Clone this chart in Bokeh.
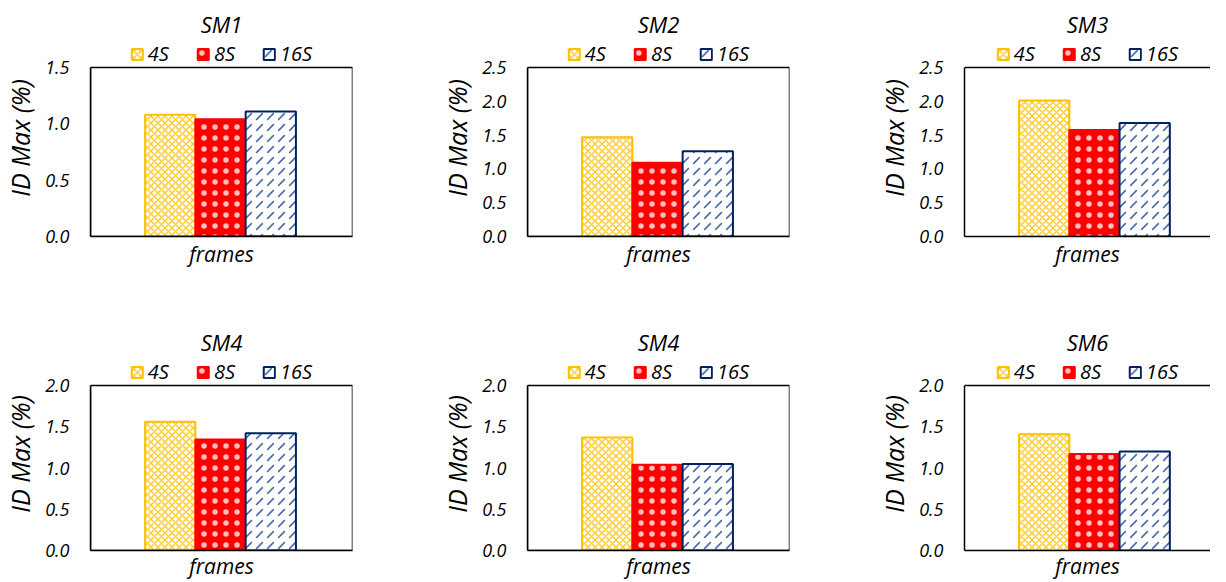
from bokeh.plotting import figure
from bokeh.layouts import row, column
from bokeh.models import (Range1d, FixedTicker, PrintfTickFormatter, Legend,
                          LegendItem, Span, ColumnDataSource, BoxAnnotation)
from bokeh.embed import file_html
from bokeh.resources import INLINE

# ---------------- data ----------------
series = ["4S", "8S", "16S"]
titles = ["SM1", "SM2", "SM3", "SM4", "SM4", "SM6"]
ymax = [1.5, 2.5, 2.5, 2.0, 2.0, 2.0]
values_4s = [1.08, 1.47, 2.01, 1.56, 1.37, 1.41]
values_8s = [1.04, 1.09, 1.575, 1.345, 1.04, 1.17]
values_16s = [1.11, 1.26, 1.68, 1.42, 1.05, 1.20]
tick_step = 0.5
x_label = "frames"
y_label = "ID Max (%)"

values = {"4S": values_4s, "8S": values_8s, "16S": values_16s}

styles = {
    "4S": dict(fill_color="white", line_color="#FFC000", hatch_pattern="diagonal_cross",
               hatch_color="#FFC000", hatch_scale=7, hatch_weight=1.5, hatch_alpha=0.8),
    "8S": dict(fill_color="#FF0000", line_color="#FF0000", hatch_pattern="dot",
               hatch_color="white", hatch_scale=11, hatch_weight=0.6, hatch_alpha=0.75),
    "16S": dict(fill_color="white", line_color="#002060", hatch_pattern="right_diagonal_dash",
                hatch_color="#3558A0", hatch_scale=11, hatch_weight=1.6, hatch_alpha=0.9),
}

FONT = "Open Sans"
EXT = 28  # px of frame above the data box, used by the legend row


def make_panel(i, col, rw):
    last_col = col == 2
    left_b = 88
    width = 336 if last_col else 437
    right_b = 0 if last_col else 85
    frame_w = width - left_b - right_b
    box_h = 169 if rw == 0 else 165
    top_b = 39 if rw == 0 else 38
    bottom_b = 83 if rw == 0 else 32
    height = top_b + EXT + box_h + bottom_b

    n = len(series)
    upp = n / 152.0
    x0 = (n - 1) / 2.0 - 131 * upp
    x1 = x0 + frame_w * upp
    y_end = ymax[i] * (box_h + EXT) / box_h

    p = figure(width=width, height=height, x_range=Range1d(x0, x1),
               y_range=Range1d(0, y_end), output_backend="svg",
               toolbar_location=None, min_border_left=left_b,
               min_border_right=right_b, min_border_top=top_b,
               min_border_bottom=bottom_b, title=titles[i])
    p.title.align = "center"
    p.title.text_font = FONT
    p.title.text_font_style = "italic"
    p.title.text_font_size = "22px"
    p.title.text_color = "black"
    p.title.standoff = 1
    p.xgrid.visible = False
    p.ygrid.visible = False
    p.background_fill_color = "white"
    p.border_fill_color = "white"
    p.outline_line_color = None

    items = []
    for k, s in enumerate(series):
        src = ColumnDataSource(dict(x=[k], top=[values[s][i]]))
        r = p.vbar(x="x", top="top", width=1.0, bottom=0, source=src,
                   line_width=2, **styles[s])
        items.append(LegendItem(label=s, renderers=[r]))

    legend = Legend(items=items, orientation="horizontal", location="top_center",
                    glyph_width=14, glyph_height=14, label_text_font=FONT,
                    label_text_font_style="italic", label_text_font_size="20px",
                    label_text_color="black",
                    spacing=27, label_standoff=4, padding=0, margin=1,
                    border_line_color=None, background_fill_alpha=0)
    p.add_layout(legend, "center")

    xa = p.xaxis[0]
    xa.ticker = FixedTicker(ticks=[])
    xa.major_label_text_font_size = "0px"
    xa.major_tick_line_color = None
    xa.minor_tick_line_color = None
    xa.axis_line_color = "black"
    xa.axis_line_width = 1.5
    xa.axis_label = x_label
    xa.axis_label_text_font = FONT
    xa.axis_label_text_font_style = "italic"
    xa.axis_label_text_font_size = "21px"
    xa.axis_label_text_color = "black"
    xa.axis_label_standoff = 3 if rw == 0 else 1

    ya = p.yaxis[0]
    nt = int(round(ymax[i] / tick_step))
    ya.ticker = FixedTicker(ticks=[k * tick_step for k in range(nt + 1)])
    ya.bounds = (0, ymax[i])
    ya.formatter = PrintfTickFormatter(format="%.1f")
    ya.major_label_text_font = FONT
    ya.major_label_text_font_style = "italic"
    ya.major_label_text_font_size = "18px"
    ya.major_label_text_color = "black"
    ya.major_label_standoff = 15
    ya.major_tick_line_color = None
    ya.minor_tick_line_color = None
    ya.axis_line_color = "black"
    ya.axis_line_width = 1.5
    ya.axis_label = y_label
    ya.axis_label_text_font = FONT
    ya.axis_label_text_font_style = "italic"
    ya.axis_label_text_font_size = "25px"
    ya.axis_label_text_color = "black"
    ya.axis_label_standoff = 5

    if last_col:
        # top edge only; the right edge lies past the window, as in the reference
        p.add_layout(Span(location=ymax[i], dimension="width",
                          line_color="black", line_width=1.5))
    else:
        p.add_layout(BoxAnnotation(bottom=0, top=ymax[i], fill_alpha=0,
                                   line_color="black", line_width=1.5,
                                   line_alpha=1.0))
    return p


panels = [make_panel(i, i % 3, i // 3) for i in range(6)]
layout = column(row(*panels[:3]), row(*panels[3:]))

open("out.html", "w").write(file_html(layout, INLINE))
